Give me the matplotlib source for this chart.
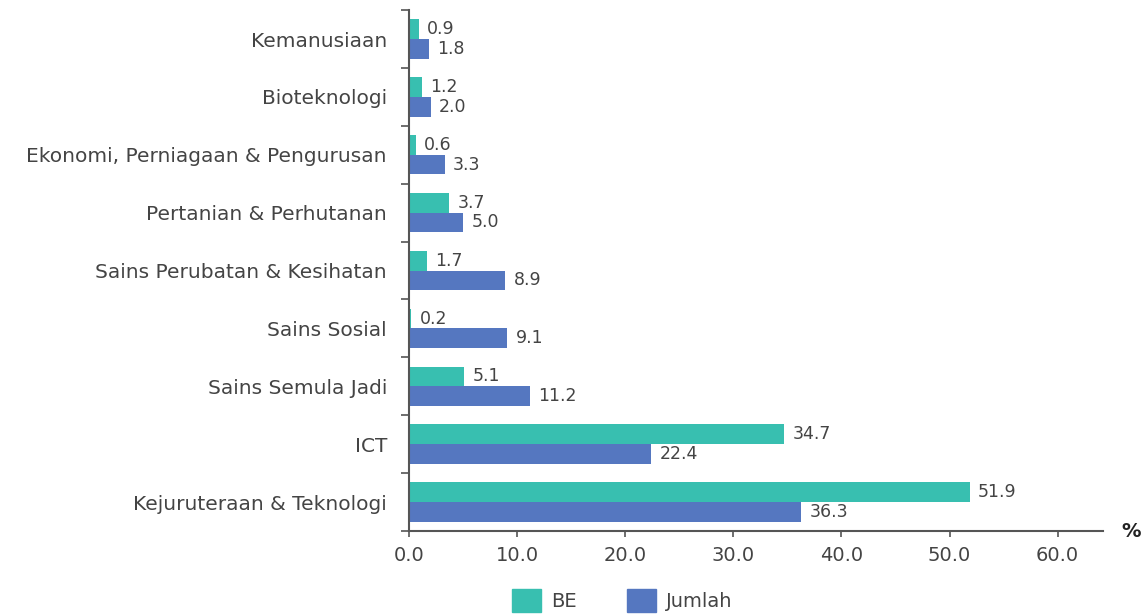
import numpy as np
import matplotlib.pyplot as plt
from matplotlib.patches import Patch

plt.rcParams['font.family'] = ['DejaVu Sans']

categories = ['Kemanusiaan', 'Bioteknologi', 'Ekonomi, Perniagaan & Pengurusan',
              'Pertanian & Perhutanan', 'Sains Perubatan & Kesihatan', 'Sains Sosial',
              'Sains Semula Jadi', 'ICT', 'Kejuruteraan & Teknologi']
be = [0.9, 1.2, 0.6, 3.7, 1.7, 0.2, 5.1, 34.7, 51.9]
jumlah = [1.8, 2.0, 3.3, 5.0, 8.9, 9.1, 11.2, 22.4, 36.3]
xticks = [0, 10, 20, 30, 40, 50, 60]

c_be = '#38bfb0'
c_jum = '#5577c0'
txt = '#444444'

fig = plt.figure(figsize=(11.46, 6.15), dpi=100)
ax = fig.add_axes([0.357, 0.1366, 0.6055, 0.847])

n = len(categories)
y = np.arange(n)[::-1]  # first category on top
h = 0.34
ax.barh(y + h / 2, be, height=h, color=c_be)
ax.barh(y - h / 2, jumlah, height=h, color=c_jum)

for yi, v in zip(y, be):
    ax.text(v + 0.75, yi + h / 2, f'{v:.1f}', va='center', ha='left', fontsize=12.5, color=txt)
for yi, v in zip(y, jumlah):
    ax.text(v + 0.75, yi - h / 2, f'{v:.1f}', va='center', ha='left', fontsize=12.5, color=txt)

ax.set_xlim(0, 64.2)
ax.set_ylim(-0.5, n - 0.5)
ax.set_yticks(y)
ax.set_yticklabels(categories, fontsize=14.5, color=txt)
ax.set_yticks(np.arange(n + 1) - 0.5, minor=True)
ax.tick_params(axis='y', which='major', length=0, pad=16)
ax.tick_params(axis='y', which='minor', length=6, width=1.2, color='#555555')
ax.set_xticks(xticks)
ax.set_xticklabels([f'{t:.1f}' for t in xticks], fontsize=14, color=txt)
ax.tick_params(axis='x', length=4, width=1.2, color='#555555', pad=7)

for s in ['top', 'right']:
    ax.spines[s].set_visible(False)
for s in ['left', 'bottom']:
    ax.spines[s].set_color('#555555')
    ax.spines[s].set_linewidth(1.5)

fig.text(0.987, 0.136, '%', ha='center', va='center', fontsize=14, fontweight='bold', color='#222222')

handles = [Patch(color=c_be, label='BE'), Patch(color=c_jum, label='Jumlah')]
leg = fig.legend(handles=handles, loc='lower center', bbox_to_anchor=(0.543, -0.024), ncol=2,
                 frameon=False, fontsize=14, handlelength=1.5, handleheight=1.5,
                 columnspacing=2.6, handletextpad=0.5)
for t in leg.get_texts():
    t.set_color(txt)

fig.savefig('out.png', dpi=100)
